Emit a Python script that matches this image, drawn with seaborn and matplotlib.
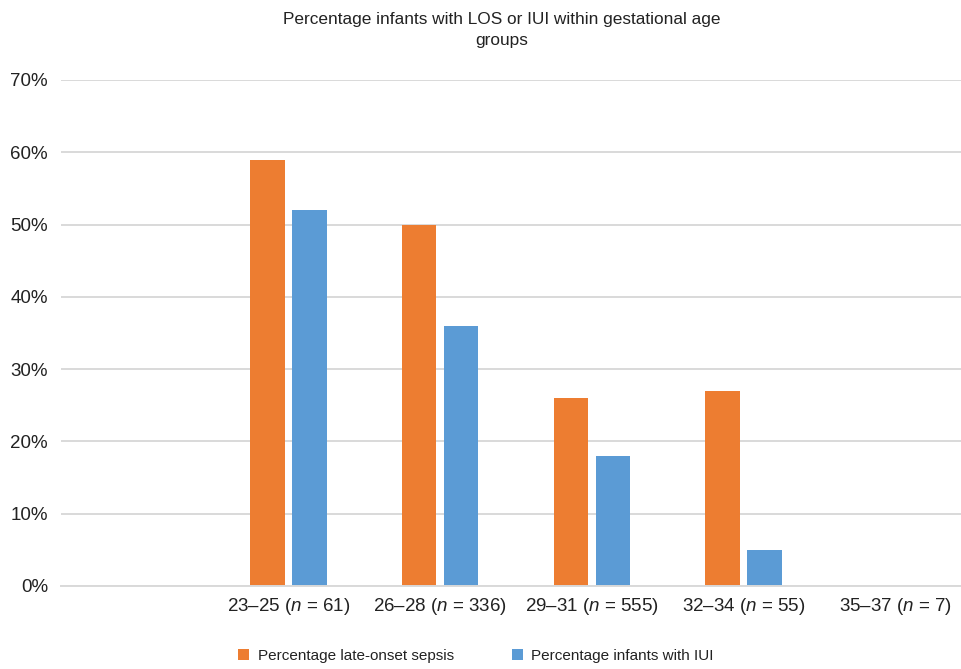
import matplotlib
matplotlib.use("Agg")
import matplotlib.pyplot as plt
import pandas as pd
import seaborn as sns

# Gestational age groups (first slot left empty on the axis)
groups = ["", "23–25 ($\\mathit{n}$ = 61)", "26–28 ($\\mathit{n}$ = 336)",
          "29–31 ($\\mathit{n}$ = 555)", "32–34 ($\\mathit{n}$ = 55)",
          "35–37 ($\\mathit{n}$ = 7)"]
data_groups = groups[1:]
los_pct = [0.59, 0.50, 0.26, 0.27, 0.0]
iui_pct = [0.52, 0.36, 0.18, 0.05, 0.0]
series_names = ["Percentage late-onset sepsis", "Percentage infants with IUI"]
colors = ["#ED7D31", "#5B9BD5"]
yticks = [0.0, 0.1, 0.2, 0.3, 0.4, 0.5, 0.6, 0.7]
ytick_labels = ["0%", "10%", "20%", "30%", "40%", "50%", "60%", "70%"]

df = pd.DataFrame({
    "group": data_groups * 2,
    "value": los_pct + iui_pct,
    "series": [series_names[0]] * len(data_groups) + [series_names[1]] * len(data_groups),
})

sns.set_theme(style="white")
plt.rcParams["font.family"] = ["Liberation Sans", "DejaVu Sans"]
plt.rcParams["mathtext.fontset"] = "custom"
plt.rcParams["mathtext.rm"] = "Liberation Sans"
plt.rcParams["mathtext.it"] = "Liberation Sans:italic"

fig = plt.figure(figsize=(9.62, 6.69), dpi=100)
ax = fig.add_axes([61 / 962, 1 - 586 / 669, 910 / 962, 506 / 669])

sns.barplot(data=df, x="group", y="value", hue="series", order=groups,
            hue_order=series_names, palette=colors, width=0.555, gap=0.19,
            linewidth=0, saturation=1, ax=ax, legend=True)

ax.set_ylim(0, 0.7)
ax.set_yticks(yticks)
ax.set_yticklabels(ytick_labels)
ax.set_xlim(-0.5, len(groups) - 0.5)
ax.set_xlabel("")
ax.set_ylabel("")
ax.grid(axis="y", color="#d9d9d9", linewidth=1.4)
ax.set_axisbelow(True)
for side in ["top", "right", "left"]:
    ax.spines[side].set_visible(False)
ax.spines["bottom"].set_color("#d9d9d9")
ax.spines["bottom"].set_linewidth(1.4)
ax.tick_params(axis="both", length=0, labelsize=13.5, colors="#222222")
ax.tick_params(axis="y", pad=9.4)
ax.tick_params(axis="x", pad=7.5)

fig.text(0.522, 1 - 30 / 669, "Percentage infants with LOS or IUI within gestational age\ngroups",
         ha="center", va="center", fontsize=12.4, color="#222222", linespacing=1.5)

handles, labels = ax.get_legend_handles_labels()
ax.legend_.remove()
fig.legend(handles, labels, loc="center", bbox_to_anchor=(0.495, 1 - 656 / 669),
           ncol=2, frameon=False, fontsize=11, handlelength=0.72, handleheight=0.72,
           handletextpad=0.55, columnspacing=3.8, labelcolor="#222222")

fig.savefig("out.png", dpi=100)
